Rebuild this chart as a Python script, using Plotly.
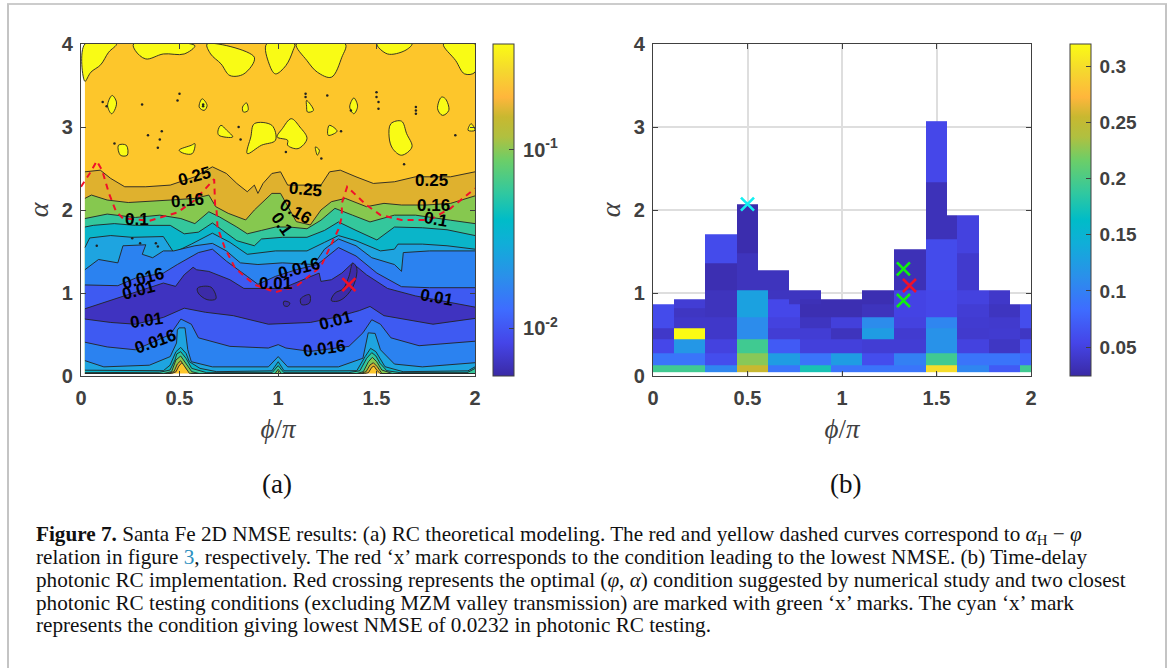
import math
import plotly.graph_objects as go

# ---------- panel (a): iso-NMSE curves (phi/pi, alpha) ----------
u250_x = [.02,.098,.151,.222,.329,.453,.578,.667,.738,.791,.844,.88,.898,.924,.969,1.013,1.049,1.129,1.218,1.262,1.316,1.396,1.484,1.591,1.698,1.876,2]
u250_y = [2.46,2.48,2.38,2.28,2.28,2.30,2.40,2.52,2.44,2.32,2.22,2.30,2.20,2.32,2.44,2.46,2.30,2.30,2.30,2.46,2.48,2.40,2.32,2.34,2.40,2.40,2.46]
b250_x = [.02,.46,.482,.497,.512,.523,.535,.56,1.44,1.459,1.476,1.487,1.501,1.518,2]
b250_y = [.03,.03,.05,.12,.16,.155,.09,.03,.03,.04,.105,.12,.072,.03,.03]

u160_x = [.02,.053,.133,.24,.453,.578,.649,.684,.747,.836,.88,.916,.969,1.013,1.049,1.093,1.164,1.218,1.271,1.342,1.449,1.538,1.627,1.751,1.876,2]
u160_y = [2.14,2.18,2.12,2.09,2.12,2.14,2.18,2.04,1.96,1.88,2.0,2.08,2.2,2.2,2.04,1.86,1.82,2.0,2.1,2.14,2.04,2.08,2.06,2.06,2.08,2.17]
b160_x = [.02,.44,.472,.489,.506,.528,.55,.58,1.42,1.447,1.467,1.484,1.504,1.527,1.56,2]
b160_y = [.03,.03,.052,.145,.184,.112,.032,.03,.03,.052,.133,.16,.112,.03,.03,.03]

u100_x = [.02,.133,.276,.4,.507,.578,.649,.702,.791,.844,.916,.987,1.058,1.147,1.218,1.289,1.378,1.467,1.591,1.698,1.876,2]
u100_y = [1.897,1.951,1.91,1.938,1.897,1.836,1.979,1.918,1.795,1.713,1.754,1.795,1.795,1.774,1.877,2.02,1.938,1.856,1.938,1.938,1.877,1.836]
b100_x = [.02,.42,.46,.482,.506,.533,.562,.6,.985,1.001,1.017,1.4,1.433,1.459,1.479,1.501,1.527,1.58,2]
b100_y = [.03,.03,.052,.193,.241,.153,.052,.03,.03,.08,.03,.03,.052,.172,.225,.172,.072,.03,.03]

u063_x = [.02,.062,.169,.276,.453,.524,.596,.667,.72,.791,.88,.916,1.022,1.147,1.236,1.307,1.396,1.502,1.591,1.733,1.858,2]
u063_y = [1.795,1.815,1.836,1.815,1.815,1.713,1.733,1.844,1.754,1.63,1.569,1.651,1.671,1.671,1.754,1.856,1.754,1.639,1.795,1.786,1.762,1.692]
b063_x = [.02,.4,.452,.477,.486,.506,.533,.562,.638,.97,1.001,1.03,1.36,1.416,1.45,1.476,1.497,1.518,1.552,1.62,1.96,2]
b063_y = [.04,.045,.072,.193,.265,.293,.213,.092,.04,.04,.125,.04,.04,.064,.213,.281,.241,.153,.064,.04,.04,.09]

u040_x = [.02,.044,.151,.258,.418,.471,.56,.667,.756,.844,.987,1.147,1.236,1.307,1.396,1.52,1.591,1.609,1.733,1.858,2]
u040_y = [1.548,1.663,1.692,1.671,1.68,1.487,1.589,1.721,1.61,1.466,1.507,1.507,1.61,1.692,1.63,1.507,1.528,1.589,1.589,1.569,1.528]
b040_x = [.02,.276,.418,.452,.482,.506,.533,.55,.604,.689,.969,1.001,1.031,1.3,1.4,1.442,1.47,1.497,1.521,1.543,1.635,1.964,2]
b040_y = [.07,.065,.064,.13,.293,.345,.273,.172,.092,.052,.062,.172,.062,.062,.064,.233,.333,.293,.193,.112,.052,.062,.11]

u025_x = [.02,.089,.187,.213,.329,.311,.364,.418,.471,.578,.667,.738,.809,.898,1.022,1.182,1.236,1.307,1.396,1.476,1.591,1.627,1.636,1.769,2]
u025_y = [1.281,1.404,1.363,1.569,1.581,1.466,1.425,1.507,1.507,1.569,1.598,1.507,1.363,1.343,1.363,1.343,1.528,1.651,1.569,1.425,1.343,1.261,1.487,1.507,1.507]
b025_x = [.02,.116,.347,.453,.485,.489,.498,.528,.542,.56,.667,.951,1.001,1.049,1.307,1.431,1.458,1.493,1.52,1.591,1.733,2]
b025_y = [.185,.11,.13,.234,.398,.554,.58,.58,.316,.172,.11,.11,.234,.11,.11,.214,.52,.513,.316,.144,.11,.16]

u016_x = [.02,.187,.276,.418,.489,.596,.667,.738,.844,.898,.987,1.093,1.2,1.307,1.396,1.502,1.627,1.769,2]
u016_y = [1.097,1.088,1.179,1.24,1.343,1.487,1.528,1.384,1.2,1.105,1.2,1.281,1.343,1.548,1.446,1.24,1.076,1.064,1.064]
b016_x = [.02,.133,.276,.453,.507,.56,.596,.756,.951,1.001,1.04,1.164,1.36,1.431,1.476,1.52,1.573,1.716,2]
b016_y = [.407,.35,.316,.50,.686,.624,.46,.357,.337,.378,.337,.296,.357,.52,.678,.624,.46,.365,.419]

u010_x = [.02,.098,.204,.311,.418,.48,.524,.569,.587,.649,.756,.827,.898,1.022,1.147,1.209,1.218,1.271,1.324,1.378,1.449,1.556,1.698,2]
u010_y = [.81,.87,.95,1.03,1.12,1.08,1.22,1.31,1.28,1.26,1.16,1.055,1.055,1.055,1.18,1.24,1.14,1.16,1.24,1.36,1.22,1.055,.965,.83]
b010_x = [.02,.151,.276,.418,.524,.631,.773,.951,1.164,1.29,1.413,1.467,1.538,1.787,2]
b010_y = [.686,.645,.624,.706,.817,.768,.727,.624,.645,.706,.788,.838,.727,.624,.694]

# areas below the lowest level (NMSE < 0.0063), outlined islands
low_islands = [
    ([.592,.66,.685,.64,.595], [1.06,1.07,.93,.92,1.0]),
    ([1.03,1.06,1.05,1.03], [.9,.88,.84,.85]),
    ([1.115,1.16,1.16,1.12], [.93,.98,.88,.86]),
    ([1.27,1.29,1.33,1.36,1.38,1.4,1.385,1.34,1.3], [.91,1.0,1.05,1.2,1.36,1.3,1.1,.95,.9]),
]
# areas above the highest level (NMSE > 0.4)
high_islands = [
    ([.02,.02,.05,.1,.14,.18], [4,3.55,3.66,3.75,3.9,4]),
    ([.267,.276,.329,.418,.524,.578], [4,3.92,3.82,3.88,3.88,3.98]),
    ([.64,.658,.711,.756,.827,.88], [4,3.88,3.76,3.62,3.64,3.84]),
    ([.942,.955,.987,1.04,1.076,1.084], [4,3.76,3.64,3.74,3.92,4]),
    ([1.093,1.147,1.2,1.271,1.324,1.342], [4,3.8,3.66,3.6,3.84,4]),
    ([1.502,1.556,1.644,1.68], [4,3.88,3.92,4]),
    ([1.84,1.902,1.947,2,2], [4,3.8,3.64,3.66,4]),
    ([.88,.969,.987,.916,.844,.862], [3.04,3.02,2.84,2.78,2.68,2.88]),
    ([1.067,1.111,1.147,1.102,1.049,1.049,.996,1.022], [3.1,3,2.86,2.74,2.78,2.84,2.88,2.98]),
    ([1.573,1.627,1.653,1.68,1.627,1.582,1.564], [3.04,3.07,2.92,2.76,2.66,2.74,2.88]),
    ([.158,.18,.17,.155,.135], [3.38,3.3,3.2,3.16,3.26]),
    ([.615,.64,.625,.6], [3.34,3.26,3.2,3.24]),
    ([.84,.848,.825,.82], [3.29,3.2,3.18,3.24]),
    ([1.145,1.18,1.15,1.145], [3.32,3.2,3.18,3.25]),
    ([1.385,1.404,1.385,1.364], [3.35,3.25,3.16,3.24]),
    ([1.83,1.85,1.867,1.835,1.81], [3.36,3.34,3.2,3.14,3.22]),
    ([.19,.23,.235,.2], [2.78,2.78,2.66,2.66]),
    ([.498,.56,.578,.565,.525], [2.72,2.78,2.8,2.68,2.68]),
    ([.71,.74,.77,.7,.695], [3.02,2.96,2.88,2.9,2.95]),
    ([1.26,1.3,1.255], [3.02,2.95,2.9]),
    ([1.19,1.21,1.2], [2.76,2.72,2.66]),
    ([1.98,2,1.965], [3.04,2.96,2.96]),
]
speck_x = [.11,.13,.17,.31,.34,.41,.4,.39,.49,.5,.62,.62,.8,.81,1.04,1.14,1.14,1.22,1.25,1.32,1.37,1.5,1.5,1.51,1.51,1.64,1.7,1.7,1.7,1.9,.08,.26,.3,.38,.39]
speck_y = [3.3,3.25,2.8,3.27,2.9,2.95,2.85,2.75,3.32,3.4,3.27,3.25,3.0,2.85,2.7,3.4,3.36,2.62,3.38,2.95,3.2,3.42,3.36,3.3,3.22,2.55,3.24,3.2,3.16,2.9,1.57,1.66,1.6,1.6,1.56]

red_curve_x = [0,.044,.08,.107,.142,.178,.213,.347,.489,.578,.676,.681,.688,.693,.729,.782,.88,.987,1.093,1.218,1.307,1.324,1.324,1.351,1.449,1.52,1.627,1.769,1.876,2]
red_curve_y = [2.28,2.44,2.59,2.48,2.2,1.98,1.9,1.87,1.97,2.12,2.37,2.04,2.0,1.79,1.55,1.30,1.1,1.01,1.08,1.32,1.77,1.92,2.08,2.28,2.06,1.94,1.88,1.88,2.02,2.26]
best_a = (1.36, 1.1)

label_text = ["0.25","0.25","0.25","0.16","0.16","0.16","0.1","0.1","0.1","0.016","0.01","0.01","0.016","0.01","0.01","0.01","0.016","0.016"]
label_x = [.574,1.138,1.78,.539,1.088,1.787,.284,1.022,1.804,.315,.29,.987,1.108,1.804,.334,1.294,.379,1.236]
label_y = [2.40,2.25,2.36,2.11,1.98,2.06,1.88,1.83,1.885,1.17,1.03,1.12,1.29,.94,.665,.665,.42,.337]
label_rot = [-15,5,0,-5,30,0,0,55,10,-15,-15,0,-15,10,-8,-15,-20,-8]

cbar_a_levels = [-2.266, -0.408]   # log10 NMSE at the ends of the colorbar
cbar_a_major = [0.01, 0.1]
cbar_a_minor = [.006,.007,.008,.009,.02,.03,.04,.05,.06,.07,.08,.09,.2,.3]

# ---------- panel (b): measured NMSE cells ----------
b_x_edges = [0,.11,.277,.444,.553,.61,.721,.777,.889,.943,1.108,1.276,1.443,1.555,1.61,1.723,1.777,1.887,1.943,2]
b_y_edges = [.05,.13,.28,.44,.575,.71,.82,.87,.92,1.03,1.27,1.36,1.48,1.53,1.65,1.71,1.94,2.07,2.34,3.07]
N = None
row01 = [.195,.195,.105,.255,.255,.09,.09,.175,.175,.09,.09,.09,.30,.30,.105,.105,.07,.07,.195]
row02 = [.09,.09,.06,.225,.225,.125,.125,.09,.09,.125,.06,.1,.195,.195,.09,.09,.09,.09,.08]
row03 = [.055,.12,.05,.195,.195,.07,.07,.048,.048,.048,.045,.045,.115,.115,.05,.05,.038,.038,.06]
row04 = [.04,.32,.04,.11,.11,.045,.045,.045,.045,.035,.125,.043,.115,.115,.042,.042,.043,.043,.038]
row05 = [.058,.04,.04,.11,.11,.05,.05,.036,.036,.048,.11,.05,.105,.105,.043,.043,.042,.042,.06]
row06 = [.058,.037,.035,.13,.13,.055,.055,.03,.03,.03,.035,.052,.055,.055,.045,.045,.036,.036,.06]
row07 = [.058,.045,.035,.13,.13,.055,.055,.03,.03,.03,.035,.052,.055,.055,.045,.045,.036,.036,.06]
row08 = [N,.045,.035,.13,.13,.055,.036,.032,.03,.03,.03,.052,.055,.055,.05,.05,.04,N,N]
row09 = [N,N,.035,.13,.13,.036,.036,.036,N,N,.03,.052,.055,.055,.05,.05,.04,N,N]
row10 = [N,N,.03,.035,.035,.035,N,N,N,N,N,.032,.058,.058,.042,N,N,N,N]
row11 = [N,N,.03,.035,N,N,N,N,N,N,N,.032,.058,.058,.042,N,N,N,N]
row12 = [N,N,.058,.035,N,N,N,N,N,N,N,.032,.058,.058,.042,N,N,N,N]
row13 = [N,N,.058,.028,N,N,N,N,N,N,N,.032,.058,.058,.05,N,N,N,N]
row14 = [N,N,.058,.028,N,N,N,N,N,N,N,N,.058,.058,.05,N,N,N,N]
row15 = [N,N,.058,.028,N,N,N,N,N,N,N,N,.033,.033,.05,N,N,N,N]
row16 = [N,N,N,.028,N,N,N,N,N,N,N,N,.033,.033,.05,N,N,N,N]
row17 = [N,N,N,.028,N,N,N,N,N,N,N,N,.033,N,N,N,N,N,N]
row18 = [N,N,N,N,N,N,N,N,N,N,N,N,.033,N,N,N,N,N,N]
row19 = [N,N,N,N,N,N,N,N,N,N,N,N,.055,N,N,N,N,N,N]
b_z = [row01,row02,row03,row04,row05,row06,row07,row08,row09,row10,row11,row12,row13,row14,row15,row16,row17,row18,row19]
cbar_b_range = [0.0242, 0.32]
cbar_b_ticks = [.05,.1,.15,.2,.25,.3]
cyan_mark = (.5, 2.07)
green_marks_x = [1.325, 1.325]
green_marks_y = [1.29, .91]
red_mark = (1.357, 1.09)

caption_lines = [
    "<b>Figure 7.</b> Santa Fe 2D NMSE results: (a) RC theoretical modeling. The red and yellow dashed curves correspond to <i>α</i><sub>H</sub> − <i>φ</i>",
    "relation in figure <span style=\"color:#2a8fc0\">3</span>, respectively. The red ‘x’ mark corresponds to the condition leading to the lowest NMSE. (b) Time-delay",
    "photonic RC implementation. Red crossing represents the optimal (<i>φ</i>, <i>α</i>) condition suggested by numerical study and two closest",
    "photonic RC testing conditions (excluding MZM valley transmission) are marked with green ‘x’ marks. The cyan ‘x’ mark",
    "represents the condition giving lowest NMSE of 0.0232 in photonic RC testing.",
]
caption_py = [535, 557, 580, 603, 625]

# ---------- styles ----------
W, H = 1167, 668
SANS = "Liberation Sans"
SERIF = "Liberation Serif"
INK = "#404040"
parula = [[0,"#3a2aa5"],[.1,"#4545e8"],[.2,"#3e6cff"],[.3,"#2a90ea"],[.4,"#10aed8"],[.47,"#00bcc8"],
          [.55,"#30c8a0"],[.65,"#6cce68"],[.72,"#b0c040"],[.78,"#c8b830"],[.84,"#ffb63c"],[.92,"#f5d82e"],[1,"#fbfb14"]]
def fx(px): return px / W
def fy(py): return 1 - py / H

fig = go.Figure()

# colour key of panel (a): small heatmap of the level range, lying under the filled bands
tick_a = [math.log10(v) for v in cbar_a_major]
fig.add_trace(go.Heatmap(
    x=[1, 1.01], y=[1, 1.01], z=[cbar_a_levels, cbar_a_levels], xaxis="x", yaxis="y",
    zmin=cbar_a_levels[0], zmax=cbar_a_levels[1], colorscale=parula, hoverinfo="skip",
    colorbar=dict(x=fx(493), xanchor="left", xpad=0, y=fy(376), yanchor="bottom", ypad=0,
                  len=332/H, lenmode="fraction", thickness=21, thicknessmode="pixels",
                  outlinecolor=INK, outlinewidth=1, ticks="inside", ticklen=5, tickcolor=INK,
                  tickmode="array", tickvals=tick_a, ticktext=["\u200910<sup>-2</sup>", "\u200910<sup>-1</sup>"],
                  tickfont=dict(family=SANS, size=20, color=INK, weight=700))))

def fill(xs, ys, color, line=False, shape="linear"):
    fig.add_trace(go.Scatter(x=xs, y=ys, mode="lines", fill="toself", fillcolor=color, xaxis="x", yaxis="y",
                             line=dict(color="#222222" if line else "rgba(0,0,0,0)", width=0.9, shape=shape),
                             showlegend=False, hoverinfo="skip"))
def iso(xs, ys):
    fig.add_trace(go.Scatter(x=xs, y=ys, mode="lines", xaxis="x", yaxis="y",
                             line=dict(color="#222222", width=0.9), showlegend=False, hoverinfo="skip"))

fill([.02, 2, 2, .02], [.03, .03, 4, 4], "#fdc62b")
bands = [(u250_x,u250_y,b250_x,b250_y,"#dfb12e"),
         (u160_x,u160_y,b160_x,b160_y,"#86c84f"),
         (u100_x,u100_y,b100_x,b100_y,"#34c79c"),
         (u063_x,u063_y,b063_x,b063_y,"#0ab5c9"),
         (u040_x,u040_y,b040_x,b040_y,"#1ea4e0"),
         (u025_x,u025_y,b025_x,b025_y,"#2b82f0"),
         (u016_x,u016_y,b016_x,b016_y,"#3e5af2"),
         (u010_x,u010_y,b010_x,b010_y,"#3f33c0")]
for ux, uy, bx, by, col in bands:
    fill(ux + bx[::-1], uy + by[::-1], col)
    iso(ux, uy)
    iso(bx, by)
for xs, ys in low_islands:
    fill(xs + xs[:1], ys + ys[:1], "#3c2ba8", line=True, shape="spline")
for xs, ys in high_islands:
    fill(xs + xs[:1], ys + ys[:1], "#f9fb15", line=True, shape="spline")
fig.add_trace(go.Scatter(x=speck_x, y=speck_y, mode="markers", xaxis="x", yaxis="y",
                         marker=dict(size=2.5, color="#222222"), showlegend=False, hoverinfo="skip"))
fig.add_trace(go.Scatter(x=red_curve_x, y=red_curve_y, mode="lines", xaxis="x", yaxis="y",
                         line=dict(color="#f0102a", width=2, dash="6px,5px"), showlegend=False, hoverinfo="skip"))
fig.add_trace(go.Scatter(x=[best_a[0]], y=[best_a[1]], mode="markers", xaxis="x", yaxis="y",
                         marker=dict(symbol="x-thin", size=13, line=dict(color="#f0102a", width=2.6)),
                         showlegend=False, hoverinfo="skip"))

# panel (b)
fig.add_trace(go.Heatmap(
    x=b_x_edges, y=b_y_edges, z=b_z, xaxis="x2", yaxis="y2", zmin=cbar_b_range[0], zmax=cbar_b_range[1],
    colorscale=parula, hoverinfo="skip",
    colorbar=dict(x=fx(1070), xanchor="left", xpad=0, y=fy(376), yanchor="bottom", ypad=0,
                  len=332/H, lenmode="fraction", thickness=21, thicknessmode="pixels",
                  outlinecolor=INK, outlinewidth=1, ticks="inside", ticklen=5, tickcolor=INK,
                  tickmode="array", tickvals=cbar_b_ticks,
                  ticktext=["\u20090.05","\u20090.1","\u20090.15","\u20090.2","\u20090.25","\u20090.3"],
                  tickfont=dict(family=SANS, size=19, color=INK, weight=700))))
for xs, ys, col in [([cyan_mark[0]], [cyan_mark[1]], "#12f0f0"),
                    (green_marks_x, green_marks_y, "#10f010"),
                    ([red_mark[0]], [red_mark[1]], "#f0102a")]:
    fig.add_trace(go.Scatter(x=xs, y=ys, mode="markers", xaxis="x2", yaxis="y2",
                             marker=dict(symbol="x-thin", size=13, line=dict(color=col, width=2.6)),
                             showlegend=False, hoverinfo="skip"))

annotations = []
for t, x, y, r in zip(label_text, label_x, label_y, label_rot):
    annotations.append(dict(text=t, x=x, y=y, xref="x", yref="y", showarrow=False, textangle=r,
                            font=dict(family=SANS, size=17, color="#000000", weight=700)))
for t, px in [("(a)", 277), ("(b)", 845)]:
    annotations.append(dict(text=t, x=fx(px), y=fy(484), xref="paper", yref="paper", showarrow=False,
                            xanchor="center", yanchor="middle",
                            font=dict(family=SERIF, size=27, color="#111111")))
for t, py in zip(caption_lines, caption_py):
    annotations.append(dict(text=t, x=fx(34), y=fy(py), xref="paper", yref="paper", showarrow=False,
                            xanchor="left", yanchor="middle", align="left",
                            font=dict(family=SERIF, size=21.2, color="#111111")))

def xax(px0, px1, show_grid, anchor):
    return dict(domain=[fx(px0), fx(px1)], range=[0, 2], anchor=anchor, tickvals=[0,.5,1,1.5,2],
                ticktext=["0","0.5","1","1.5","2"], ticks="inside", ticklen=5, tickcolor=INK,
                showline=True, linecolor=INK, linewidth=1.4, mirror="allticks", zeroline=False,
                showgrid=show_grid, gridcolor="#dedede", gridwidth=1.6, automargin=False, ticklabelstandoff=4,
                tickfont=dict(family=SANS, size=20, color=INK, weight=700),
                title=dict(text="<i>ϕ</i>/<i>π</i>", standoff=10, font=dict(family=SERIF, size=27, color=INK)))
def yax(show_grid, anchor):
    return dict(domain=[fy(376), fy(44)], range=[0, 4], anchor=anchor, tickvals=[0,1,2,3,4],
                ticks="inside", ticklen=5, tickcolor=INK,
                showline=True, linecolor=INK, linewidth=1.4, mirror="allticks", zeroline=False,
                showgrid=show_grid, gridcolor="#dedede", gridwidth=1.6, automargin=False, ticklabelstandoff=3,
                tickfont=dict(family=SANS, size=20, color=INK, weight=700),
                title=dict(text="<i>α</i>", standoff=4, font=dict(family=SERIF, size=28, color=INK)))

# minor colorbar ticks of panel (a), at the listed levels of its log scale
def cbar_py(v):
    return 376 - 332 * (math.log10(v) - cbar_a_levels[0]) / (cbar_a_levels[1] - cbar_a_levels[0])
shapes = [dict(type="line", xref="paper", yref="paper", x0=fx(511), x1=fx(514), y0=fy(cbar_py(v)), y1=fy(cbar_py(v)),
               line=dict(color=INK, width=1)) for v in cbar_a_minor]
shapes += [
    dict(type="line", xref="paper", yref="paper", x0=fx(7), x1=1, y0=fy(4), y1=fy(4), line=dict(color="#999999", width=1.2)),
    dict(type="line", xref="paper", yref="paper", x0=fx(8), x1=fx(8), y0=0, y1=fy(4), line=dict(color="#c4c4c4", width=2)),
    dict(type="line", xref="paper", yref="paper", x0=fx(1166), x1=fx(1166), y0=0, y1=fy(4), line=dict(color="#c4c4c4", width=2)),
]

fig.update_layout(
    width=W, height=H, margin=dict(l=0, r=0, t=0, b=0, autoexpand=False),
    paper_bgcolor="#ffffff", plot_bgcolor="#ffffff",
    showlegend=False, hovermode=False,
    xaxis=xax(81, 475, False, "y"), yaxis=yax(False, "x"),
    xaxis2=xax(653, 1031, True, "y2"), yaxis2=yax(True, "x2"),
    annotations=annotations, shapes=shapes)

fig.write_html("out.html", config={"displayModeBar": False}, post_script="document.body.style.margin='0';")
